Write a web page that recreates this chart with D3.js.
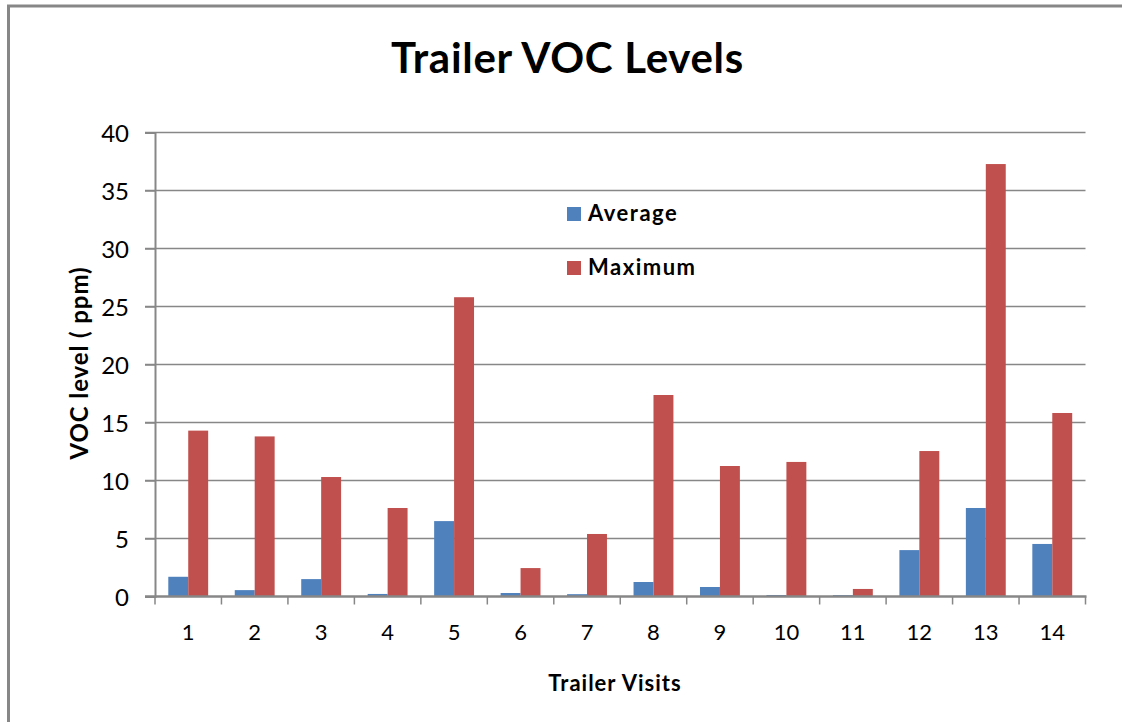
<!DOCTYPE html>
<meta charset="utf-8">
<script src="https://d3js.org/d3.v7.min.js"></script>
<style>
  body { margin: 0; background: #fff; }
  text { font-family: Lato, "Open Sans", sans-serif; fill: #000; }
</style>
<body>
<script>
// Chart data
const visits = ["1", "2", "3", "4", "5", "6", "7", "8", "9", "10", "11", "12", "13", "14"];
const seriesNames = ["Average", "Maximum"];
const average = [1.7, 0.55, 1.5, 0.22, 6.5, 0.3, 0.2, 1.25, 0.82, 0.13, 0.12, 4.0, 7.63, 4.53];
const maximum = [14.3, 13.8, 10.3, 7.63, 25.8, 2.45, 5.39, 17.37, 11.25, 11.6, 0.65, 12.54, 37.28, 15.82];
const yTicks = [0, 5, 10, 15, 20, 25, 30, 35, 40];
const colors = ["#4F81BD", "#C0504D"];

const W = 1122, H = 722;
const plot = {left: 155, right: 1085.5, top: 132.5, bottom: 596.5};

const svg = d3.select("body").append("svg")
    .attr("width", W)
    .attr("height", H);

// outer frame (only left and top edges show)
svg.append("path")
    .attr("d", `M8.5,${H} L8.5,6 L${W},6`)
    .attr("fill", "none")
    .attr("stroke", "#878787")
    .attr("stroke-width", 3);

const x = d3.scaleBand().domain(visits).range([plot.left, plot.right]);
const xs = d3.scaleBand().domain(seriesNames)
    .range([x.bandwidth() * 0.2, x.bandwidth() * 0.8]);
const y = d3.scaleLinear().domain([0, 40]).range([plot.bottom, plot.top]);

// gridlines
svg.append("g").selectAll("line")
    .data(yTicks.filter(d => d > 0))
    .join("line")
    .attr("x1", plot.left - 10)
    .attr("x2", plot.right)
    .attr("y1", d => y(d))
    .attr("y2", d => y(d))
    .attr("stroke", "#878787")
    .attr("stroke-width", 1.5);

// bars
const rows = visits.map((v, i) => ({visit: v, values: [average[i], maximum[i]]}));
svg.append("g").selectAll("g")
    .data(rows)
    .join("g")
    .attr("transform", d => `translate(${x(d.visit)},0)`)
    .selectAll("rect")
    .data(d => d.values.map((v, j) => ({name: seriesNames[j], value: v, color: colors[j]})))
    .join("rect")
    .attr("x", d => xs(d.name))
    .attr("width", xs.bandwidth())
    .attr("y", d => y(d.value))
    .attr("height", d => y(0) - y(d.value))
    .attr("fill", d => d.color);

// y axis
const yAxis = svg.append("g")
    .attr("transform", `translate(${plot.left},0)`)
    .call(d3.axisLeft(y).tickValues(yTicks).tickSize(10).tickPadding(16));
yAxis.select(".domain").attr("stroke", "#878787").attr("stroke-width", 2);
yAxis.selectAll(".tick line").attr("stroke", "#878787").attr("stroke-width", 1.5);
yAxis.selectAll(".tick text")
    .style("font-size", "24px")
    .attr("dy", "0.36em");

// x axis (ticks at category boundaries)
const xAxis = svg.append("g")
    .attr("transform", `translate(0,${plot.bottom})`);
xAxis.append("line")
    .attr("x1", plot.left - 10).attr("x2", plot.right + 1)
    .attr("stroke", "#878787").attr("stroke-width", 2.5);
xAxis.selectAll(".xt")
    .data(visits.concat(["end"]))
    .join("line")
    .attr("class", "xt")
    .attr("x1", (d, i) => plot.left + i * x.bandwidth())
    .attr("x2", (d, i) => plot.left + i * x.bandwidth())
    .attr("y1", 0).attr("y2", 8)
    .attr("stroke", "#878787").attr("stroke-width", 1.5);
xAxis.selectAll("text")
    .data(visits)
    .join("text")
    .attr("x", d => x(d) + x.bandwidth() / 2)
    .attr("y", 43)
    .attr("text-anchor", "middle")
    .style("font-size", "22px")
    .text(d => d);

// title
svg.append("text")
    .attr("x", 567.5)
    .attr("y", 73)
    .attr("text-anchor", "middle")
    .style("font-size", "42px")
    .style("font-weight", "bold")
    .style("letter-spacing", "0.7px")
    .text("Trailer VOC Levels");

// axis titles
svg.append("text")
    .attr("x", 615)
    .attr("y", 691)
    .attr("text-anchor", "middle")
    .style("font-size", "22px")
    .style("font-weight", "bold")
    .style("letter-spacing", "1px")
    .text("Trailer Visits");

svg.append("text")
    .attr("transform", "translate(88,363) rotate(-90)")
    .attr("text-anchor", "middle")
    .style("font-size", "24px")
    .style("font-weight", "bold")
    .style("letter-spacing", "0.9px")
    .text("VOC level ( ppm)");

// legend
const legend = svg.append("g").selectAll("g")
    .data(seriesNames)
    .join("g")
    .attr("transform", (d, i) => `translate(567,${207 + i * 54})`);
legend.append("rect")
    .attr("width", 14).attr("height", 14)
    .attr("fill", (d, i) => colors[i]);
legend.append("text")
    .attr("x", 21)
    .attr("y", 13.5)
    .style("font-size", "22px")
    .style("font-weight", "bold")
    .style("letter-spacing", "1.5px")
    .text(d => d);
</script>
</body>
</html>
